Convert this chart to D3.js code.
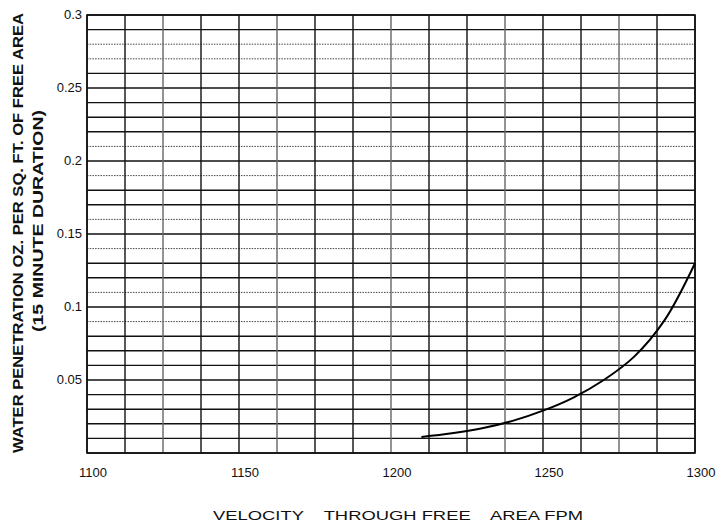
<!DOCTYPE html>
<html>
<head>
<meta charset="utf-8">
<script src="https://cdn.jsdelivr.net/npm/d3@7"></script>
<style>
    body { margin: 0; background: #fff; }
    text { font-family: "Liberation Sans Narrow", "Liberation Sans", Arial, sans-serif; fill: #111; }
</style>
</head>
<body>
<script>
// curve
const velocity = [1210, 1220, 1230, 1240, 1250, 1260, 1270, 1280, 1290, 1300];
const penetration = [0.011, 0.0135, 0.017, 0.022, 0.029, 0.038, 0.05, 0.066, 0.091, 0.13];

const xTicks = [1100, 1150, 1200, 1250, 1300];
const yTicks = [0.05, 0.1, 0.15, 0.2, 0.25, 0.3];
const dottedRows = [0.09, 0.11, 0.14, 0.16, 0.19, 0.21, 0.27, 0.28];

const width = 718;
const height = 522;
const margin = { top: 15, right: 23, bottom: 69, left: 87 };

const svg = d3
    .select("body")
    .append("svg")
    .attr("width", width)
    .attr("height", height);

const x = d3.scaleLinear().domain([1100, 1300]).range([margin.left, width - margin.right]);
const y = d3.scaleLinear().domain([0, 0.3]).range([height - margin.bottom, margin.top]);

// grid: verticals every 12.5 fpm, horizontals every 0.01
const vLines = d3.range(0, 17).map((i) => 1100 + i * 12.5);
const hLines = d3.range(0, 31).map((i) => +(i * 0.01).toFixed(2));

const grid = svg.append("g");

grid.selectAll(".h")
    .data(hLines)
    .join("line")
    .attr("x1", x(1100))
    .attr("x2", x(1300))
    .attr("y1", (d) => y(d))
    .attr("y2", (d) => y(d))
    .attr("stroke", (d) => (dottedRows.includes(d) ? "#444" : "#111"))
    .attr("stroke-width", (d) => (dottedRows.includes(d) ? 1 : 1.4))
    .attr("stroke-dasharray", (d) => (dottedRows.includes(d) ? "1.5,1.2" : null));

grid.selectAll(".v")
    .data(vLines)
    .join("line")
    .attr("x1", (d) => x(d))
    .attr("x2", (d) => x(d))
    .attr("y1", y(0))
    .attr("y2", y(0.3))
    .attr("stroke", (d, i) => (i % 3 === 2 ? "#666" : "#111"))
    .attr("stroke-width", 1.4);

// frame
svg.append("rect")
    .attr("x", x(1100))
    .attr("y", y(0.3))
    .attr("width", x(1300) - x(1100))
    .attr("height", y(0) - y(0.3))
    .attr("fill", "none")
    .attr("stroke", "#111")
    .attr("stroke-width", 1.6);

// curve
const line = d3
    .line()
    .x((d, i) => x(velocity[i]))
    .y((d) => y(d))
    .curve(d3.curveCatmullRom);

svg.append("path")
    .datum(penetration)
    .attr("d", line)
    .attr("fill", "none")
    .attr("stroke", "#000")
    .attr("stroke-width", 2);

// tick labels
svg.selectAll(".xt")
    .data(xTicks)
    .join("text")
    .attr("x", (d) => x(d) + 6)
    .attr("y", 477)
    .attr("text-anchor", "middle")
    .attr("font-size", 13)
    .text((d) => d);

svg.selectAll(".yt")
    .data(yTicks)
    .join("text")
    .attr("x", 82)
    .attr("y", (d) => y(d) + 4)
    .attr("text-anchor", "end")
    .attr("font-size", 13)
    .text((d) => d);

// axis titles
svg.append("text")
    .attr("transform", "translate(23,233) rotate(-90)")
    .attr("text-anchor", "middle")
    .attr("font-size", 14)
    .attr("font-weight", "bold")
    .attr("textLength", 440)
    .attr("lengthAdjust", "spacingAndGlyphs")
    .attr("font-family", "Liberation Sans, Arial, sans-serif")
    .text("WATER PENETRATION OZ. PER SQ. FT. OF FREE AREA");

svg.append("text")
    .attr("transform", "translate(43,221) rotate(-90)")
    .attr("text-anchor", "middle")
    .attr("font-size", 14)
    .attr("font-weight", "bold")
    .attr("textLength", 222)
    .attr("lengthAdjust", "spacingAndGlyphs")
    .attr("font-family", "Liberation Sans, Arial, sans-serif")
    .text("(15 MINUTE DURATION)");

svg.append("text")
    .attr("x", 398)
    .attr("y", 520)
    .attr("text-anchor", "middle")
    .attr("font-size", 13)
    .attr("textLength", 370)
    .attr("lengthAdjust", "spacingAndGlyphs")
    .attr("font-family", "Liberation Sans, Arial, sans-serif")
    .style("white-space", "pre")
    .text("VELOCITY    THROUGH FREE    AREA FPM");
</script>
</body>
</html>
